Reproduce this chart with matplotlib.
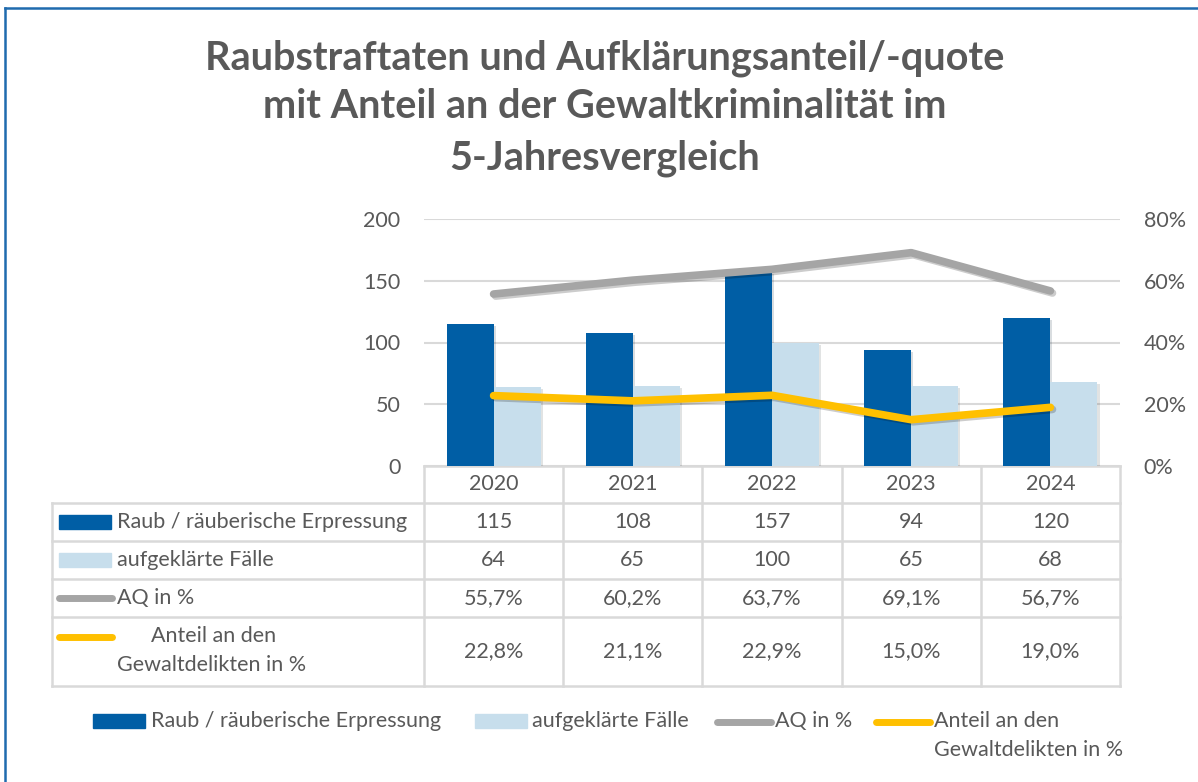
import matplotlib
matplotlib.use("Agg")
import matplotlib.pyplot as plt
import matplotlib.patheffects as pe
from matplotlib.patches import Rectangle
from matplotlib.ticker import FuncFormatter

plt.rcParams["font.family"] = ["Lato", "DejaVu Sans"]

# Werte aus der Datentabelle
years = ["2020", "2021", "2022", "2023", "2024"]
raub = [115, 108, 157, 94, 120]
aufgeklaert = [64, 65, 100, 65, 68]
aq = [55.7, 60.2, 63.7, 69.1, 56.7]
anteil = [22.8, 21.1, 22.9, 15.0, 19.0]

labels = ["Raub / räuberische Erpressung", "aufgeklärte Fälle", "AQ in %",
          "Anteil an den\nGewaltdelikten in %"]

DARK = "#005EA5"
LIGHT = "#C7DEEC"
GREY = "#A5A5A5"
YELLOW = "#FFC000"
TXT = "#595959"
GRID = "#D9D9D9"

W, H = 1198, 782
fig = plt.figure(figsize=(W / 100, H / 100), dpi=100)

# Pixel-Layout (aus Referenz)
ax_l, ax_r, ax_t, ax_b = 424, 1120, 219, 466
ax = fig.add_axes([ax_l / W, 1 - ax_b / H, (ax_r - ax_l) / W, (ax_b - ax_t) / H])
ax2 = ax.twinx()

x = list(range(len(years)))
bw = 0.338
shadow = [pe.SimplePatchShadow(offset=(1.5, -1.5), alpha=0.15), pe.Normal()]
b1 = ax.bar([i - bw / 2 for i in x], raub, bw, color=DARK, zorder=2)
b2 = ax.bar([i + bw / 2 for i in x], aufgeklaert, bw, color=LIGHT, zorder=2)
for b in list(b1) + list(b2):
    b.set_path_effects(shadow)

lshadow = [pe.SimpleLineShadow(offset=(1.5, -1.5), alpha=0.2), pe.Normal()]
ax2.plot(x, [v / 100 for v in aq], color=GREY, lw=5.5, solid_capstyle="round",
         solid_joinstyle="round", path_effects=lshadow)
ax2.plot(x, [v / 100 for v in anteil], color=YELLOW, lw=5.5, solid_capstyle="round",
         solid_joinstyle="round", path_effects=lshadow)

ax.set_xlim(-0.5, len(years) - 0.5)
ax.set_ylim(0, 200)
ax.set_yticks([0, 50, 100, 150, 200])
ax2.set_ylim(0, 0.8)
ax2.set_yticks([0, 0.2, 0.4, 0.6, 0.8])
ax2.yaxis.set_major_formatter(FuncFormatter(lambda v, p: f"{v * 100:.0f}%"))
ax.set_xticks([])
ax.grid(axis="y", color=GRID, lw=1.5, zorder=0)
ax.set_axisbelow(True)
for a in (ax, ax2):
    for s in a.spines.values():
        s.set_visible(False)
fs = 15.5
ax.tick_params(axis="y", length=0, pad=17, labelsize=fs, labelcolor=TXT)
ax2.tick_params(axis="y", length=0, pad=17, labelsize=fs, labelcolor=TXT)

# Overlay in Pixelkoordinaten fuer Titel, Datentabelle und Legende
ov = fig.add_axes([0, 0, 1, 1], zorder=-1)
ov.set_xlim(0, W)
ov.set_ylim(H, 0)
ov.axis("off")
ov2 = fig.add_axes([0, 0, 1, 1], zorder=5)
ov2.set_xlim(0, W)
ov2.set_ylim(H, 0)
ov2.axis("off")

# Rahmen
ov2.plot([5, W], [8, 8], color="#1F6BAE", lw=1.8)
ov2.plot([5, 5], [8, H], color="#1F6BAE", lw=1.8)

# Titel
for txt, yy in zip(["Raubstraftaten und Aufklärungsanteil/-quote",
                    "mit Anteil an der Gewaltkriminalität im",
                    "5-Jahresvergleich"], [58, 107, 158]):
    ov2.text(605, yy, txt, ha="center", va="center", fontsize=28.5,
             fontweight="bold", color=TXT)

# Datentabelle
tab_l = 52
col_w = (ax_r - ax_l) / len(years)
rows = [466, 503, 541, 579, 617, 686]
ov.plot([ax_l, ax_r], [rows[0], rows[0]], color=GRID, lw=1.8)
for ry in rows[1:]:
    ov.plot([tab_l, ax_r], [ry, ry], color=GRID, lw=1.8)
ov.plot([tab_l, tab_l], [rows[1], rows[-1]], color=GRID, lw=1.8)
for i in range(len(years) + 1):
    cx = ax_l + i * col_w
    ov.plot([cx, cx], [rows[0], rows[-1]], color=GRID, lw=1.8)

for i, yr in enumerate(years):
    cx = ax_l + (i + 0.5) * col_w
    ov2.text(cx, (rows[0] + rows[1]) / 2, yr, ha="center", va="center", fontsize=fs, color=TXT)
    ov2.text(cx, (rows[1] + rows[2]) / 2, f"{raub[i]}", ha="center", va="center", fontsize=fs, color=TXT)
    ov2.text(cx, (rows[2] + rows[3]) / 2, f"{aufgeklaert[i]}", ha="center", va="center", fontsize=fs, color=TXT)
    ov2.text(cx, (rows[3] + rows[4]) / 2, f"{aq[i]:.1f}%".replace(".", ","), ha="center", va="center", fontsize=fs, color=TXT)
    ov2.text(cx, (rows[4] + rows[5]) / 2, f"{anteil[i]:.1f}%".replace(".", ","), ha="center", va="center", fontsize=fs, color=TXT)

# Legendenschluessel in der Tabelle
ov2.add_patch(Rectangle((59, 515), 52, 14, color=DARK))
ov2.add_patch(Rectangle((59, 553), 52, 14, color=LIGHT))
ov2.plot([59, 112], [598, 598], color=GREY, lw=5, solid_capstyle="round")
ov2.plot([59, 112], [637, 637], color=YELLOW, lw=5, solid_capstyle="round")
ov2.text(117, (rows[1] + rows[2]) / 2, labels[0], ha="left", va="center", fontsize=fs, color=TXT)
ov2.text(117, (rows[2] + rows[3]) / 2, labels[1], ha="left", va="center", fontsize=fs, color=TXT)
ov2.text(117, (rows[3] + rows[4]) / 2, labels[2], ha="left", va="center", fontsize=fs, color=TXT)
l1, l2 = labels[3].split("\n")
ov2.text(151, 636, l1, ha="left", va="center", fontsize=fs, color=TXT)
ov2.text(117, 665, l2, ha="left", va="center", fontsize=fs, color=TXT)

# Legende unten
ov2.add_patch(Rectangle((93, 714), 52, 14, color=DARK))
ov2.text(151, 721, labels[0], ha="left", va="center", fontsize=fs, color=TXT)
ov2.add_patch(Rectangle((475, 714), 52, 14, color=LIGHT))
ov2.text(532, 721, labels[1], ha="left", va="center", fontsize=fs, color=TXT)
ov2.plot([717, 771], [722, 722], color=GREY, lw=5, solid_capstyle="round")
ov2.text(775, 721, labels[2], ha="left", va="center", fontsize=fs, color=TXT)
ov2.plot([876, 930], [722, 722], color=YELLOW, lw=5, solid_capstyle="round")
ov2.text(934, 721, l1, ha="left", va="center", fontsize=fs, color=TXT)
ov2.text(934, 750, l2, ha="left", va="center", fontsize=fs, color=TXT)

fig.savefig("out.png", dpi=100)
